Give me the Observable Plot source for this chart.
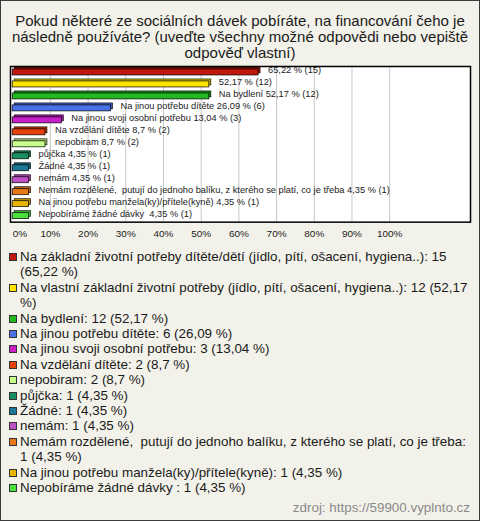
<!DOCTYPE html>
<html><head><meta charset="utf-8">
<script src="https://cdn.jsdelivr.net/npm/d3@7"></script>
<script src="https://cdn.jsdelivr.net/npm/@observablehq/plot@0.6"></script>
<style>
html,body{margin:0;padding:0;background:#fff;}
#wrap{position:relative;width:480px;height:521px;box-sizing:border-box;background:#f3f2ea;border:1px solid #3c3c3c;font-family:"Liberation Sans",Arial,sans-serif;color:#1a1a1a;overflow:hidden}
#title{position:absolute;left:4px;top:12px;width:470px;text-align:center;font-size:15px;line-height:16px;}
#chart{position:absolute;left:-1px;top:59px;}
#legend{position:absolute;left:8px;top:248px;width:466px;font-size:13.4px;line-height:15.4px;}
.item{display:flex;align-items:flex-start}
.item span.t{white-space:pre-wrap}
.sw{flex:none;width:6px;height:6px;border:1px solid #333;margin:4px 3px 0 0}
#source{position:absolute;right:9px;top:499px;color:#8a8a8a;font-size:13.4px;line-height:15.4px}
</style></head>
<body>
<div id="wrap">
  <div id="title"></div>
  <div id="chart"></div>
  <div id="legend"></div>
  <div id="source"></div>
</div>
<script>
const titleText = "Pokud některé ze sociálních dávek pobíráte, na financování čeho je následně používáte? (uveďte všechny možné odpovědi nebo vepiště odpověď vlastní)";
const categories = [
  "Na základní životní potřeby dítěte/dětí (jídlo, pítí, ošacení, hygiena..)",
  "Na vlastní základní životní potřeby (jídlo, pítí, ošacení, hygiena..)",
  "Na bydlení",
  "Na jinou potřebu dítěte",
  "Na jinou svoji osobní potřebu",
  "Na vzdělání dítěte",
  "nepobiram",
  "půjčka",
  "Žádné",
  "nemám",
  "Nemám rozdělené,  putují do jednoho balíku, z kterého se platí, co je třeba",
  "Na jinou potřebu manžela(ky)/přítele(kyně)",
  "Nepobíráme žádné dávky "
];
const counts = [15, 12, 12, 6, 3, 2, 2, 1, 1, 1, 1, 1, 1];
const percents = [65.22, 52.17, 52.17, 26.09, 13.04, 8.7, 8.7, 4.35, 4.35, 4.35, 4.35, 4.35, 4.35];
const percentLabels = ["65,22", "52,17", "52,17", "26,09", "13,04", "8,7", "8,7", "4,35", "4,35", "4,35", "4,35", "4,35", "4,35"];
const barLabels = [
  "65,22 % (15)",
  "52,17 % (12)",
  "Na bydlení 52,17 % (12)",
  "Na jinou potřebu dítěte 26,09 % (6)",
  "Na jinou svoji osobní potřebu 13,04 % (3)",
  "Na vzdělání dítěte 8,7 % (2)",
  "nepobiram 8,7 % (2)",
  "půjčka 4,35 % (1)",
  "Žádné 4,35 % (1)",
  "nemám 4,35 % (1)",
  "Nemám rozdělené,  putují do jednoho balíku, z kterého se platí, co je třeba 4,35 % (1)",
  "Na jinou potřebu manžela(ky)/přítele(kyně) 4,35 % (1)",
  "Nepobíráme žádné dávky  4,35 % (1)"
];
const colors = ["#c0180c", "#ffe400", "#22b822", "#4a72e8", "#c81ec8", "#e8400c", "#c8ff8c", "#189060", "#1a7896", "#c050c8", "#e87818", "#e8b400", "#4ce03c"];
const ticks = [0, 10, 20, 30, 40, 50, 60, 70, 80, 90, 100];
const sourceText = "zdroj: https://59900.vyplnto.cz";

document.getElementById("title").textContent = titleText;
document.getElementById("source").textContent = sourceText;

const data = categories.map((c, i) => ({
  key: i, cat: c, pct: percents[i], label: barLabels[i],
  color: colors[i], dark: d3.color(colors[i]).darker(0.7).formatHex()
}));

const chart = Plot.plot({
  width: 480, height: 185,
  marginLeft: 10, marginRight: 9, marginTop: 6, marginBottom: 23,
  style: {background: "transparent", fontFamily: "'Liberation Sans', Arial, sans-serif", overflow: "visible"},
  x: {domain: [0, 100], range: [12.2, 390], axis: null},
  y: {domain: data.map(d => d.key), range: [6, 162], paddingInner: 0.52, paddingOuter: 0.26, axis: null},
  color: {type: "identity"},
  marks: [
    Plot.frame({fill: "white"}),
    Plot.ruleX(ticks.filter(t => t > 0), {stroke: "#c8c8c8"}),
    Plot.barX(data, {x: "pct", y: "key", fill: "dark", dx: 2, dy: -2, stroke: "#000", strokeWidth: 0.6}),
    Plot.barX(data, {x: "pct", y: "key", fill: "color", stroke: "#000", strokeWidth: 0.7}),
    Plot.text(data, {x: "pct", y: "key", text: "label", textAnchor: "start", dx: 9.5, dy: -2, fontSize: 9.3, fill: "#222", style: {whiteSpace: "pre"}}),
    Plot.frame({stroke: "#000", strokeWidth: 1.5}),
    Plot.text(ticks.filter(t => t === 0), {x: d => d, text: d => d + "%", frameAnchor: "bottom", lineAnchor: "top", dy: 8, textAnchor: "start", fontSize: 10, fill: "#222"}),
    Plot.text(ticks.filter(t => t > 0), {x: d => d, text: d => d + "%", frameAnchor: "bottom", lineAnchor: "top", dy: 8, textAnchor: "middle", fontSize: 10, fill: "#222"})
  ]
});
document.getElementById("chart").appendChild(chart);

const legend = document.getElementById("legend");
categories.forEach((c, i) => {
  const item = document.createElement("div");
  item.className = "item";
  const sw = document.createElement("span");
  sw.className = "sw";
  sw.style.background = colors[i];
  const tx = document.createElement("span");
  tx.className = "t";
  tx.textContent = c + ": " + counts[i] + " (" + percentLabels[i] + " %)";
  item.appendChild(sw);
  item.appendChild(tx);
  legend.appendChild(item);
});
</script>
</body></html>
